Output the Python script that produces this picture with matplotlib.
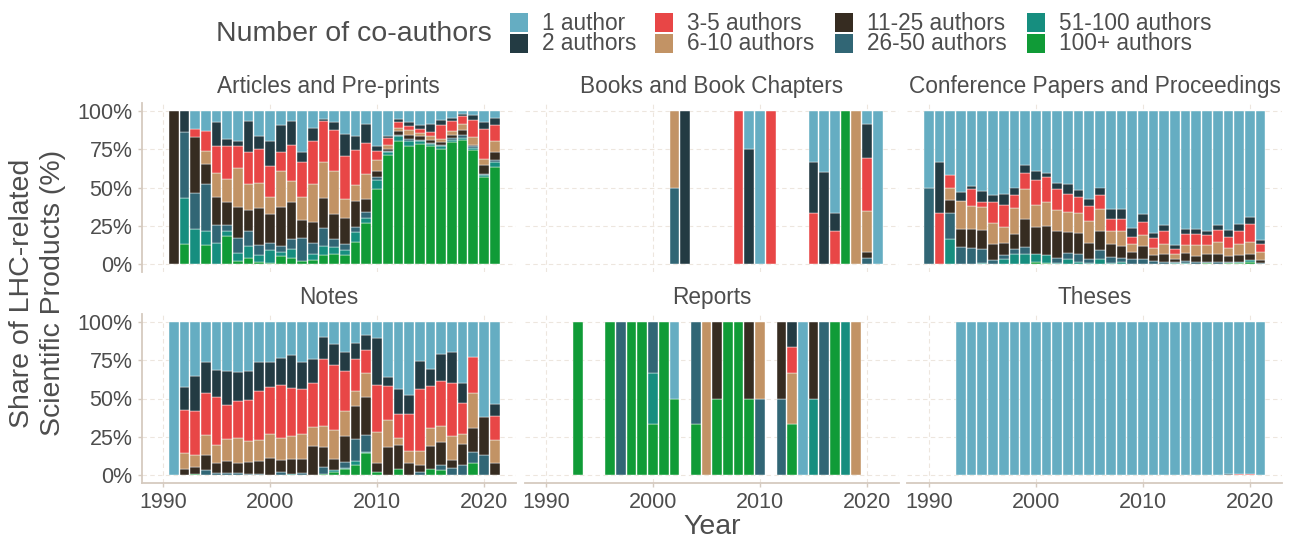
import numpy as np
import matplotlib
matplotlib.use("Agg")
import matplotlib.pyplot as plt
from matplotlib.patches import Rectangle

plt.rcParams['font.family'] = ['Liberation Sans', 'DejaVu Sans']

# categories from bottom of the stack to the top
categories = ["100+ authors", "51-100 authors", "26-50 authors", "11-25 authors",
              "6-10 authors", "3-5 authors", "2 authors", "1 author"]
colors = ["#109B37", "#168E7F", "#316675", "#362C21",
          "#C29365", "#E84646", "#233B43", "#65ADC2"]

# each row: cumulative % at the top of 100+, 51-100, 26-50, 11-25, 6-10, 3-5, 2 authors
# (the rest up to 100% is "1 author")
art_years = list(range(1991, 2022))
art_cum = [
    [0, 0, 0, 100, 100, 100, 100],
    [13.5, 43, 86, 86, 86, 86, 100],
    [0, 23, 46.6, 82.6, 82.6, 88, 88],
    [12.4, 21.6, 52, 65, 74, 86.5, 86.5],
    [0, 14, 25.5, 44, 59.3, 77.3, 92.4],
    [18.3, 21.6, 25.5, 40.7, 55.6, 77.3, 81.5],
    [2, 7.2, 17.4, 37, 62.5, 77.3, 80],
    [4.4, 12, 21.6, 35.3, 52, 73.4, 93],
    [1.5, 6, 12.4, 36.8, 53, 75, 83.7],
    [1, 9.6, 14, 32.7, 44, 64.3, 80],
    [5.4, 7.8, 12, 37.5, 60.8, 72.8, 90.6],
    [4.4, 10, 16.3, 40.7, 54.2, 77.8, 93],
    [2, 2, 17.4, 28.8, 44, 66.4, 73],
    [2.6, 7, 14, 27.7, 52, 80, 88.7],
    [6, 12, 23.7, 43.4, 66.9, 93, 94.8],
    [6.5, 11.3, 16.3, 33, 60.8, 87.6, 92.4],
    [6, 9, 13.5, 30, 42.7, 70.6, 85],
    [14.6, 21, 24.4, 41, 51.6, 74.5, 83.2],
    [27.2, 30.3, 34, 42.5, 58.6, 78.9, 91.5],
    [48.8, 54.9, 57.1, 61, 68, 74, 76.7],
    [71.2, 72.8, 74, 75, 77.8, 82, 83.7],
    [80.4, 83.2, 84.3, 86.5, 88.7, 92.4, 94.8],
    [77.3, 80.4, 81.5, 84.3, 87.6, 89.8, 92.6],
    [78, 80, 81, 83.2, 85.4, 88.2, 90.8],
    [76.7, 78.2, 79, 81, 83.2, 85.8, 91.5],
    [75, 76.7, 77.8, 79.3, 81.5, 90.8, 93.7],
    [79.3, 81, 82, 84.3, 86.5, 93, 95.2],
    [80.6, 82, 83.9, 87.6, 91.5, 96.7, 97.8],
    [74.5, 76, 77, 77.8, 82.8, 94.1, 97],
    [56.6, 58.2, 59, 64.7, 68.6, 88.2, 92.4],
    [63.2, 66.4, 68, 73.4, 80.4, 90.4, 95.2],
]

book_years = [2002, 2003, 2008, 2009, 2010, 2011, 2015, 2016, 2017, 2018, 2019, 2020, 2021]
book_cum = [
    [0, 0, 50, 50, 100, 100, 100],
    [0, 0, 0, 0, 0, 0, 100],
    [0, 0, 0, 0, 0, 100, 100],
    [0, 0, 0, 0, 0, 0, 75],
    [0, 0, 0, 0, 0, 0, 0],
    [0, 0, 0, 0, 0, 100, 100],
    [0, 0, 0, 0, 0, 33.1, 66.4],
    [0, 0, 0, 0, 0, 0, 60],
    [0, 0, 0, 0, 0, 21.8, 33.1],
    [100, 100, 100, 100, 100, 100, 100],
    [0, 0, 0, 0, 100, 100, 100],
    [0, 0, 4, 8, 34.6, 69.5, 91.3],
    [0, 0, 0, 0, 0, 0, 0],
]

conf_years = list(range(1990, 2022))
conf_cum = [
    [0, 0, 50, 50, 50, 50, 50],
    [0, 0, 0, 0, 0, 33.1, 66.4],
    [0, 16.3, 33.1, 41.8, 50, 58.2, 58.2],
    [0, 0, 11.3, 23.3, 41.2, 41.2, 46.8],
    [0, 0, 10.7, 23.3, 37.9, 48.8, 51],
    [0, 1, 9.8, 22.2, 37, 40.3, 47.7],
    [0, 0, 3, 13.5, 27.2, 40.7, 45.1],
    [0.4, 3.3, 5.9, 14, 24.4, 38.6, 45.5],
    [0, 6.5, 10.2, 19.6, 36.8, 45.1, 50],
    [0, 6.5, 11.3, 29.8, 48.8, 59.3, 64.5],
    [1.7, 6.5, 6.5, 24.4, 38.6, 54.9, 61],
    [1, 5.9, 5.9, 24.8, 40.3, 56.6, 59.5],
    [0, 1, 4.4, 21.8, 35.3, 48.8, 52.7],
    [0, 3.7, 7.2, 21.1, 33.8, 45.8, 52],
    [0, 1.5, 7, 20.5, 33.6, 44, 48.4],
    [0, 1, 3.3, 14, 28.3, 37.9, 42.5],
    [0, 3.3, 9, 21.6, 36, 45.1, 50],
    [0, 1, 4.8, 13.1, 21.6, 29.2, 35.7],
    [0, 1.5, 4.4, 12.2, 21.8, 29.8, 36],
    [0, 0, 3.3, 8, 13.1, 17.9, 23.7],
    [0, 0, 3.3, 11.8, 19, 27.7, 32.5],
    [0, 0, 2, 5.9, 10.7, 17.4, 20.7],
    [0, 0, 1.5, 6.5, 13.5, 21.8, 25.5],
    [0, 0.8, 1.5, 3.7, 7, 10.2, 12.4],
    [0, 1, 2, 7.4, 12.4, 20, 22.9],
    [0, 0, 1.5, 5.4, 12.4, 20, 23.3],
    [0.6, 0.6, 1.5, 7, 12.4, 19, 21.8],
    [0, 0, 1.5, 6.5, 14.6, 22.2, 25.5],
    [0.6, 0.6, 1.3, 5.2, 10.9, 17.9, 22.2],
    [0.8, 1.5, 1.5, 5.9, 13.5, 21.6, 26.1],
    [1.5, 2.6, 2.6, 7, 14.6, 26.1, 30.5],
    [0, 0, 1, 3, 8, 13.1, 16.1],
]

note_years = list(range(1991, 2022))
note_cum = [
    [0, 0, 0, 0, 0, 0, 0],
    [0, 0, 0, 3.9, 14.4, 42.7, 57.3],
    [0.6, 0.6, 0.6, 5.2, 13.3, 42, 64.5],
    [0, 0, 3.5, 13.1, 26.4, 53.6, 73.6],
    [0, 0, 1.5, 8.3, 19.8, 51, 68.4],
    [0, 0, 1.3, 9.6, 23.7, 45.5, 67.8],
    [0, 0, 1.3, 8.3, 24.2, 48.6, 67.3],
    [0, 0, 0.9, 8.7, 22.4, 49.2, 68.2],
    [0, 0, 0.9, 9.2, 23.1, 55.1, 73.6],
    [0, 0.4, 0.4, 11.3, 27, 57.3, 73.6],
    [0, 0, 2.2, 10.2, 24.2, 59, 76.5],
    [0, 0.9, 0.9, 10.7, 25.3, 56.9, 78],
    [0, 0, 1.3, 10.5, 27, 56.4, 73.6],
    [0.4, 0.4, 0.4, 19.2, 31.2, 60.1, 75.8],
    [0.9, 0.9, 5.2, 18.7, 32.2, 75.4, 90],
    [2, 3.3, 3.3, 10.5, 29.6, 72.1, 85.6],
    [4.1, 4.5, 8.7, 25.3, 41.6, 68.2, 80.2],
    [7, 9.6, 23.7, 44.9, 54.7, 76, 85.8],
    [14.4, 15, 26.4, 50.8, 66.7, 81.5, 91.1],
    [2.4, 2.4, 2.4, 7.8, 27.9, 59, 89.5],
    [0, 0, 0, 18.3, 36.2, 58, 64.1],
    [3.9, 3.9, 3.9, 20, 24.2, 39.9, 56.2],
    [0, 0, 0, 7.8, 16.1, 39.9, 52.1],
    [0, 0, 2.2, 7, 16.1, 56.2, 74.3],
    [3.9, 3.9, 3.9, 19.4, 30.7, 58, 69.3],
    [3.5, 3.5, 6.8, 21.6, 31.8, 61.2, 79.1],
    [0, 0, 5, 10, 25.3, 60.1, 80.4],
    [0, 0, 6.5, 20.3, 26.8, 47.1, 60.1],
    [7.8, 7.8, 15.3, 30.7, 53.8, 77.1, 77.1],
    [0, 0, 12.9, 37.7, 37.7, 37.7, 37.7],
    [0, 0, 0, 7.8, 23.1, 38.3, 46.4],
]

rep_years = [1993, 1996, 1997, 1998, 1999, 2000, 2001, 2002, 2004, 2005, 2006, 2007,
             2008, 2009, 2010, 2012, 2013, 2014, 2015, 2016, 2017, 2018, 2019]
rep_cum = [
    [100, 100, 100, 100, 100, 100, 100],
    [100, 100, 100, 100, 100, 100, 100],
    [0, 0, 100, 100, 100, 100, 100],
    [100, 100, 100, 100, 100, 100, 100],
    [100, 100, 100, 100, 100, 100, 100],
    [33.3, 66.7, 100, 100, 100, 100, 100],
    [100, 100, 100, 100, 100, 100, 100],
    [50, 50, 50, 50, 50, 50, 50],
    [33.3, 33.3, 100, 100, 100, 100, 100],
    [0, 0, 0, 0, 100, 100, 100],
    [50, 50, 50, 100, 100, 100, 100],
    [100, 100, 100, 100, 100, 100, 100],
    [100, 100, 100, 100, 100, 100, 100],
    [50, 50, 50, 100, 100, 100, 100],
    [0, 0, 50, 50, 100, 100, 100],
    [0, 0, 50, 100, 100, 100, 100],
    [33.3, 33.3, 33.3, 33.3, 66.7, 83.3, 100],
    [0, 0, 0, 0, 0, 0, 0],
    [0, 50, 50, 100, 100, 100, 100],
    [0, 0, 100, 100, 100, 100, 100],
    [100, 100, 100, 100, 100, 100, 100],
    [0, 100, 100, 100, 100, 100, 100],
    [0, 0, 0, 0, 100, 100, 100],
]

thes_years = list(range(1993, 2022))
thes_cum = [[0, 0, 0, 0, 0, 0, 0] for y in range(1993, 2017)] + [
    [0, 0, 0.5, 0.5, 0.5, 0.5, 0.5],
    [0, 0, 0, 0, 0, 0, 0.6],
    [0, 0, 0, 0, 0, 0.6, 0.6],
    [0, 0, 0, 0, 0, 0.6, 0.6],
    [0, 0, 0, 0, 0, 0, 0],
]

panels = [
    ("Articles and Pre-prints", art_years, art_cum),
    ("Books and Book Chapters", book_years, book_cum),
    ("Conference Papers and Proceedings", conf_years, conf_cum),
    ("Notes", note_years, note_cum),
    ("Reports", rep_years, rep_cum),
    ("Theses", thes_years, thes_cum),
]

W, H = 1293, 542
fig = plt.figure(figsize=(W / 100, H / 100), dpi=100)

txt = "#4D4D4D"
axc = "#D5CABF"
gridc = "#EDE6DE"

lefts = [141.6, 524.6, 907.4]
tops = [103, 314]
pw, ph = 374.5, 169

for i, (title, years, cum) in enumerate(panels):
    r, c = divmod(i, 3)
    ax = fig.add_axes([lefts[c] / W, 1 - (tops[r] + ph) / H, pw / W, ph / H])
    cum = np.array(cum, dtype=float)
    full = np.hstack([np.zeros((len(years), 1)), cum, np.full((len(years), 1), 100.0)])
    shares = np.diff(full, axis=1)
    yrs = np.array(years)
    for k in range(8):
        m = shares[:, k] > 0
        ax.bar(yrs[m], shares[m, k], bottom=full[m, k], width=0.9,
               color=colors[k], edgecolor="white", linewidth=0.3, zorder=2)
    ax.set_xlim(1988, 2023)
    ax.set_ylim(-5, 105)
    ax.set_xticks([1990, 2000, 2010, 2020])
    ax.set_yticks([0, 25, 50, 75, 100])
    ax.grid(True, color=gridc, linestyle=(0, (4, 3)), linewidth=0.8, zorder=0)
    for s in ax.spines.values():
        s.set_visible(False)
    ax.tick_params(colors=axc, labelcolor=txt, labelsize=15.5, length=3, width=1)
    if c == 0:
        ax.spines["left"].set_visible(True)
        ax.spines["left"].set_color(axc)
        ax.spines["left"].set_linewidth(1.3)
        ax.set_yticklabels(["0%", "25%", "50%", "75%", "100%"])
    else:
        ax.tick_params(axis="y", left=False, labelleft=False)
    if r == 1:
        ax.spines["bottom"].set_visible(True)
        ax.spines["bottom"].set_color(axc)
        ax.spines["bottom"].set_linewidth(1.3)
    else:
        ax.tick_params(axis="x", bottom=False, labelbottom=False)
    ax.set_title(title, color=txt, fontsize=16.3, pad=7)

fig.text(37.5 / W, 1 - 293 / H, "Share of LHC-related\nScientific Products (%)",
         rotation=90, ha="center", va="center", fontsize=20.5, color=txt,
         linespacing=1.28)
fig.text(712 / W, 1 - 527 / H, "Year", ha="center", va="center", fontsize=20.5, color=txt)

# legend, drawn by hand
fig.text(354 / W, 1 - 34 / H, "Number of co-authors", ha="center", va="center",
         fontsize=20.5, color=txt)
leg_order = [7, 6, 5, 4, 3, 2, 1, 0]
col_x = [510, 655, 835, 1027]
row_y = [13, 34]
for j, k in enumerate(leg_order):
    cx = col_x[j // 2]
    ry = row_y[j % 2]
    fig.patches.append(Rectangle((cx / W, 1 - (ry + 19) / H), 18 / W, 19 / H,
                                 transform=fig.transFigure, facecolor=colors[k],
                                 edgecolor="none"))
    fig.text((cx + 32) / W, 1 - (ry + 10) / H, categories[k], ha="left", va="center",
             fontsize=16.3, color=txt)

fig.savefig("out.png", dpi=100)
